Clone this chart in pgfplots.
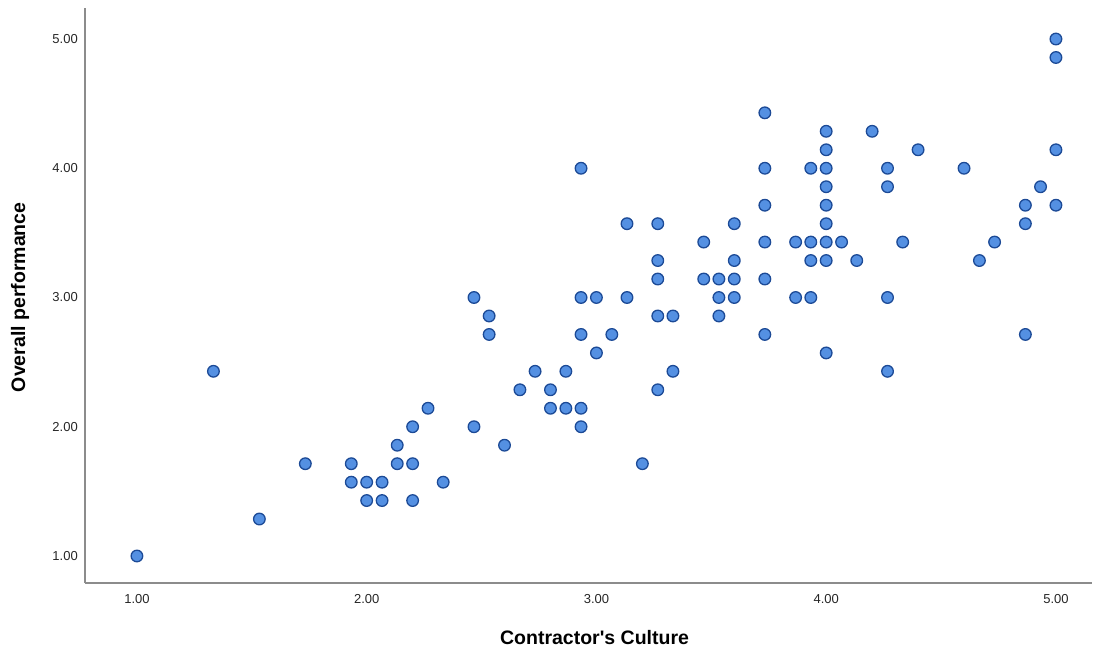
\documentclass[border=0pt]{standalone}
\usepackage{fontspec}
\setmainfont{Liberation Sans}[Ligatures=TeXOff]
\usepackage{pgfplots}
\pgfplotsset{compat=1.18}
\definecolor{mfill}{HTML}{5490E2}
\definecolor{medge}{HTML}{1C4A96}
\definecolor{axgray}{HTML}{8C8C8C}
\begin{document}
\begin{tikzpicture}[x=1pt,y=1pt]
\begin{axis}[
  scale only axis,
  width=1007pt, height=575pt,
  xmin=0.774, xmax=5.157,
  ymin=0.791, ymax=5.24,
  axis x line=bottom, axis y line=left,
  axis line style={-, draw=axgray, line width=1.4pt},
  xtick={1,2,3,4,5}, ytick={1,2,3,4,5},
  major tick length=0pt,
  /pgf/number format/assume math mode=true,
  xticklabel={\pgfmathprintnumber[fixed,fixed zerofill,precision=2]{\tick}},
  yticklabel={\pgfmathprintnumber[fixed,fixed zerofill,precision=2]{\tick}},
  tick label style={font=\fontsize{13}{15}\selectfont, text=black!85},
  xticklabel style={anchor=north, inner sep=0pt, yshift=-11pt},
  yticklabel style={anchor=east, inner sep=0pt, xshift=-7pt},
  xlabel={Contractor's Culture},
  ylabel={Overall performance},
  label style={font=\bfseries\fontsize{19.5}{23}\selectfont},
  xlabel style={at={(axis description cs:0.506,-0.094)}, anchor=center},
  ylabel style={at={(axis description cs:-0.0645,0.497)}, anchor=center, rotate=0},
  clip=false,
]
\addplot[only marks, mark=*, mark size=5.8pt,
  mark options={fill=mfill, draw=medge, line width=1.3pt}]
coordinates {
(1.000,1.000)
(1.333,2.429)
(1.533,1.286)
(1.733,1.714)
(1.933,1.714)
(1.933,1.571)
(2.000,1.571)
(2.000,1.429)
(2.067,1.571)
(2.067,1.429)
(2.133,1.857)
(2.133,1.714)
(2.200,2.000)
(2.200,1.714)
(2.200,1.429)
(2.267,2.143)
(2.333,1.571)
(2.467,3.000)
(2.467,2.000)
(2.533,2.857)
(2.533,2.714)
(2.600,1.857)
(2.667,2.286)
(2.733,2.429)
(2.800,2.286)
(2.800,2.143)
(2.867,2.429)
(2.867,2.143)
(2.933,4.000)
(2.933,3.000)
(2.933,2.714)
(2.933,2.143)
(2.933,2.000)
(3.000,3.000)
(3.000,2.571)
(3.067,2.714)
(3.133,3.571)
(3.133,3.000)
(3.200,1.714)
(3.267,3.571)
(3.267,3.286)
(3.267,3.143)
(3.267,2.857)
(3.267,2.286)
(3.333,2.857)
(3.333,2.429)
(3.467,3.429)
(3.467,3.143)
(3.533,3.143)
(3.533,3.000)
(3.533,2.857)
(3.600,3.571)
(3.600,3.286)
(3.600,3.143)
(3.600,3.000)
(3.733,4.429)
(3.733,4.000)
(3.733,3.714)
(3.733,3.429)
(3.733,3.143)
(3.733,2.714)
(3.867,3.429)
(3.867,3.000)
(3.933,4.000)
(3.933,3.429)
(3.933,3.286)
(3.933,3.000)
(4.000,4.286)
(4.000,4.143)
(4.000,4.000)
(4.000,3.857)
(4.000,3.714)
(4.000,3.571)
(4.000,3.429)
(4.000,3.286)
(4.000,2.571)
(4.067,3.429)
(4.133,3.286)
(4.200,4.286)
(4.267,4.000)
(4.267,3.857)
(4.267,3.000)
(4.267,2.429)
(4.333,3.429)
(4.400,4.143)
(4.600,4.000)
(4.667,3.286)
(4.733,3.429)
(4.867,3.714)
(4.867,3.571)
(4.867,2.714)
(4.933,3.857)
(5.000,5.000)
(5.000,4.857)
(5.000,4.143)
(5.000,3.714)
};
\end{axis}
\path (current axis.origin) ++(-85pt,-67pt) rectangle ++(1097pt,650pt);
\end{tikzpicture}
\end{document}
